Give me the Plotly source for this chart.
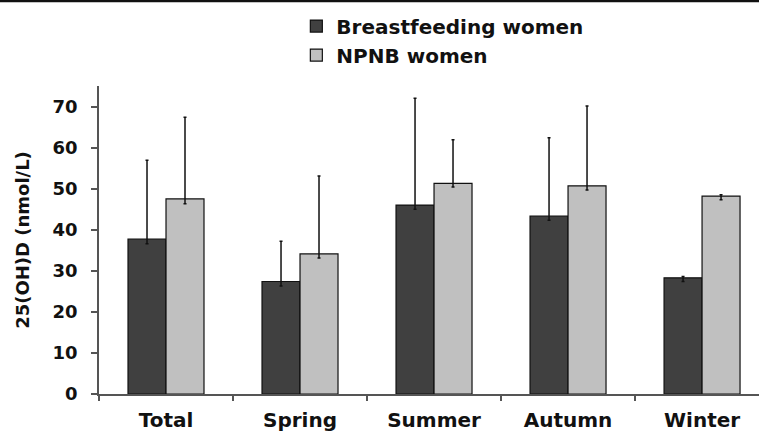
import plotly.graph_objects as go

categories = ["Total", "Spring", "Summer", "Autumn", "Winter"]
series_names = ["Breastfeeding women", "NPNB women"]
bf_values = [37.7, 27.4, 46.0, 43.3, 28.3]
bf_err_plus = [19.2, 9.8, 26.0, 19.1, 0.3]
bf_err_minus = [1.1, 1.1, 1.0, 1.0, 0.9]
npnb_values = [47.5, 34.1, 51.3, 50.7, 48.2]
npnb_err_plus = [19.9, 19.0, 10.6, 19.4, 0.3]
npnb_err_minus = [1.2, 1.0, 0.9, 1.0, 0.9]
y_ticks = [0, 10, 20, 30, 40, 50, 60, 70]

FONT = "'DejaVu Sans', Arial, sans-serif"

fig = go.Figure()
for name, vals, ep, em, col in [
    (series_names[0], bf_values, bf_err_plus, bf_err_minus, "#404040"),
    (series_names[1], npnb_values, npnb_err_plus, npnb_err_minus, "#c0c0c0"),
]:
    fig.add_trace(go.Bar(
        x=categories, y=vals, name=name,
        marker=dict(color=col, line=dict(color="#111111", width=1.2)),
        error_y=dict(type="data", symmetric=False, array=ep, arrayminus=em,
                     color="#111111", thickness=1.5, width=1.5),
    ))

fig.update_layout(
    width=759, height=434,
    margin=dict(l=99, r=0, t=86, b=40),
    paper_bgcolor="white", plot_bgcolor="white",
    barmode="group", bargap=0.433, bargroupgap=0,
    font=dict(family=FONT, color="#111111"),
    showlegend=True,
    legend=dict(x=0.299, y=1.258, xanchor="left", yanchor="top",
                font=dict(size=20, weight="bold", family=FONT, color="#111111"),
                bgcolor="rgba(0,0,0,0)", tracegroupgap=0),
    xaxis=dict(
        automargin=False,
        range=[-0.5, 4.425], showgrid=False, showline=True, linecolor="#555555", linewidth=1.5,
        ticks="outside", tickson="boundaries", ticklen=5, tickcolor="#555555", tickwidth=1.5,
        ticklabelstandoff=7,
        tickfont=dict(size=20, weight="bold", family=FONT, color="#111111"),
    ),
    yaxis=dict(
        automargin=False,
        range=[0, 75], tickvals=y_ticks, showgrid=False, zeroline=False,
        showline=True, linecolor="#555555", linewidth=1.5,
        ticks="outside", ticklen=6, tickcolor="#555555", tickwidth=1.5,
        ticklabelstandoff=10,
        tickfont=dict(size=18, weight="bold", family=FONT, color="#111111"),
        title=dict(text="25(OH)D (nmol/L)", standoff=18,
                   font=dict(size=18, weight="bold", family=FONT, color="#111111")),
    ),
    shapes=[dict(type="line", xref="paper", yref="paper", x0=-0.2, x1=1.1,
                 y0=1.2757, y1=1.2757, line=dict(color="#111111", width=2.5))],
)

fig.write_html("out.html",
               config={"displayModeBar": False},
               post_script="document.body.style.margin='0';document.body.style.overflow='hidden';")
